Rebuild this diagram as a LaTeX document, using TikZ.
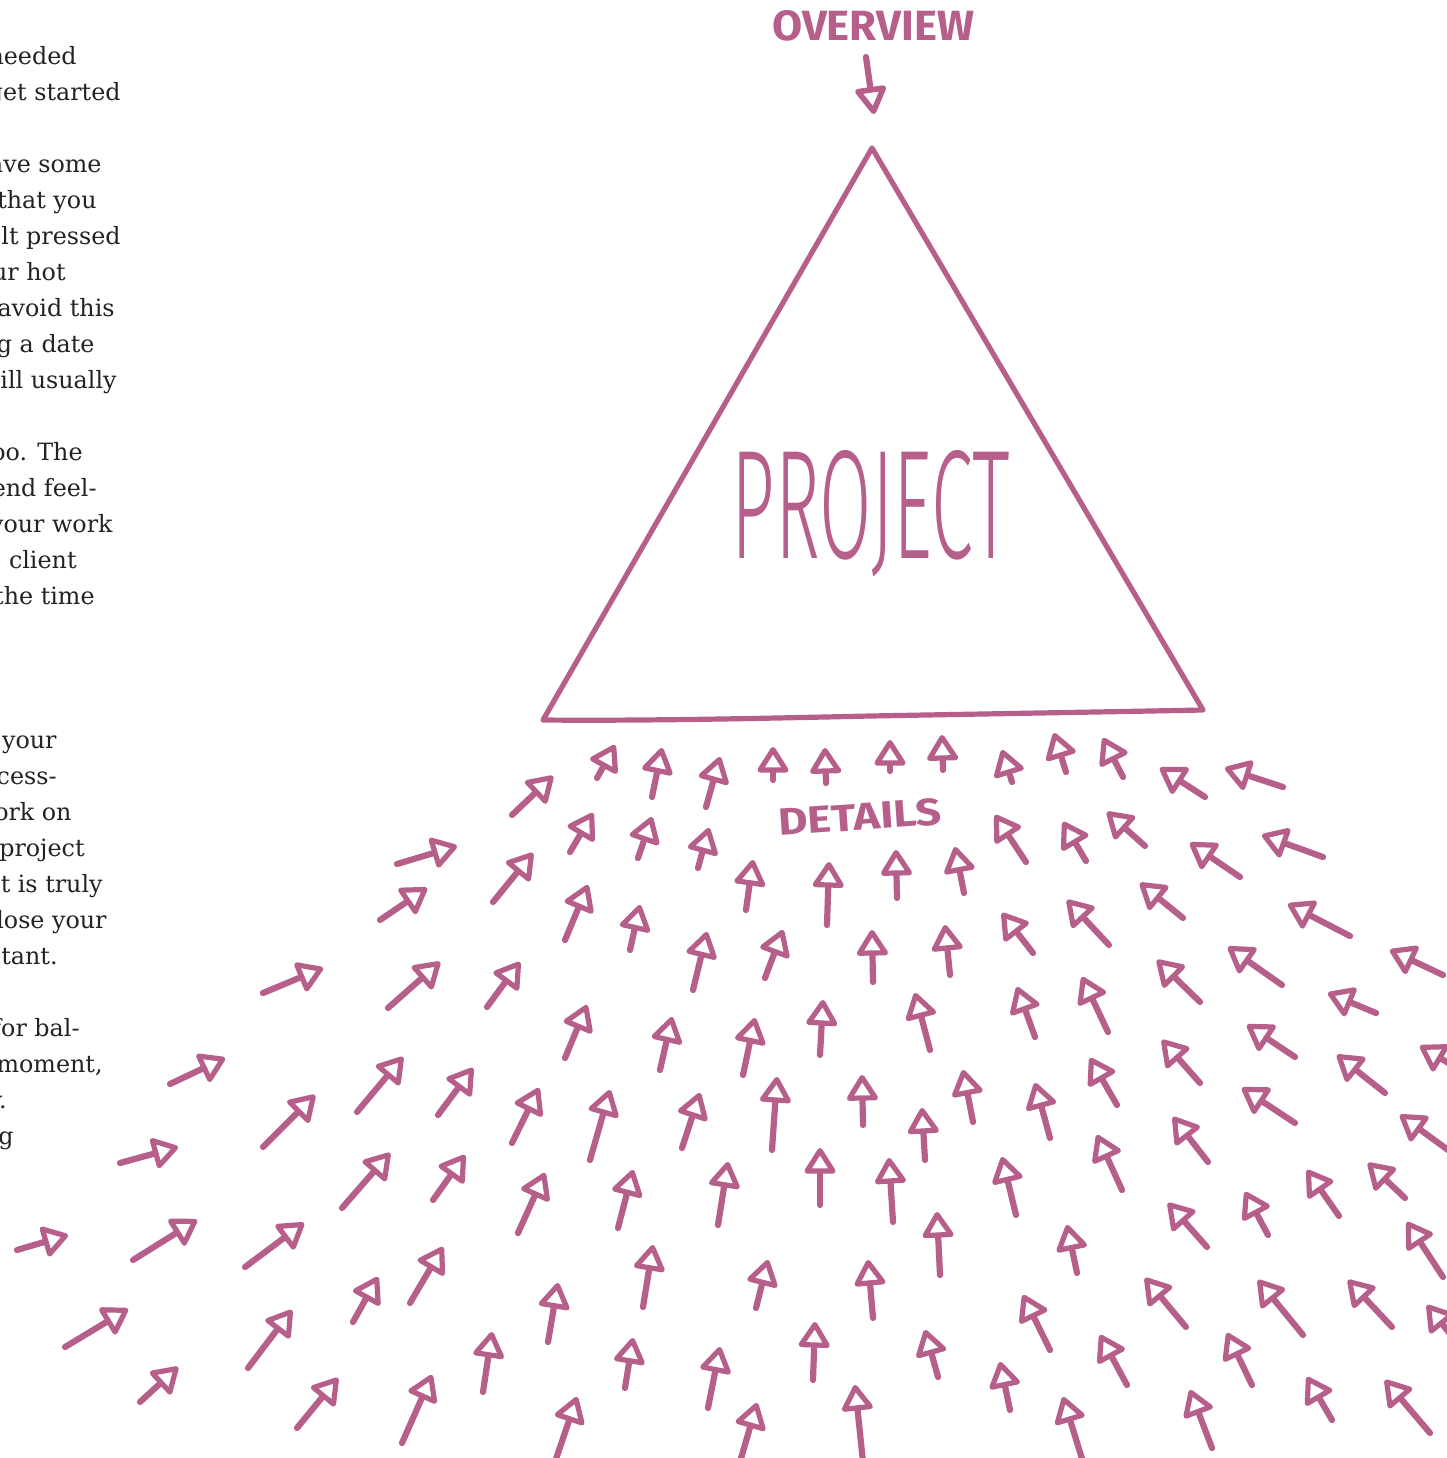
\documentclass[tikz,border=0pt]{standalone}
\usepackage{fontspec}
\usepackage{graphicx}
\usetikzlibrary{arrows.meta}
\setmainfont{DejaVu Serif}
\newfontfamily\handfont{Fira Sans}
\newfontfamily\thinhand{Fira Sans Light}
\definecolor{ink}{RGB}{182,95,139}
\definecolor{bodytext}{RGB}{35,35,35}

\begin{document}
\begin{tikzpicture}[x=0.5pt,y=-0.5pt,
  pen/.style={draw=ink, line width=2.6pt, line cap=round, line join=round},
  dart/.style={draw=ink, line width=3.1pt, line cap=round, line join=round,
    -{Triangle[open,round,length=14pt,width=17pt,line width=2.6pt]}},
  bigdart/.style={dart, -{Triangle[open,round,length=15pt,width=17pt,line width=2.8pt]}},
  copy/.style={anchor=base east, inner sep=0pt, text=bodytext,
    font=\fontsize{11.9pt}{14pt}\selectfont},
  hand/.style={inner sep=0pt, text=ink}]

\fill[white] (0,0) rectangle (1447,1458);
\useasboundingbox (0,0) rectangle (1447,1458);
\clip (0,0) rectangle (1447,1458);

% running text of the facing column, cut by the page edge
\node[copy] (t1)  at (77,64)    {needed};
\node[copy] (t2)  at (121,100)  {get started};
\node[copy] (t3)  at (102,172)  {ave some};
\node[copy] (t4)  at (97,208)   {that you};
\node[copy] (t5)  at (121,244)  {elt pressed};
\node[copy] (t6)  at (66,280)   {ur hot};
\node[copy] (t7)  at (115,316)  {avoid this};
\node[copy] (t8)  at (95,352)   {g a date};
\node[copy] (t9)  at (117,388)  {ill usually};
\node[copy] (t10) at (83,460)   {oo. The};
\node[copy] (t11) at (97,496)   {end feel-};
\node[copy] (t12) at (113,532)  {your work};
\node[copy] (t13) at (77,568)   {e client};
\node[copy] (t14) at (95,604)   {the time};
\node[copy] (t15) at (57,748)   {your};
\node[copy] (t16) at (57,784)   {cess-};
\node[copy] (t17) at (72,820)   {ork on};
\node[copy] (t18) at (85,856)   {project};
\node[copy] (t19) at (103,892)  {t is truly};
\node[copy] (t20) at (107,928)  {lose your};
\node[copy] (t21) at (58,964)   {tant.};
\node[copy] (t22) at (80,1036)  {for bal-};
\node[copy] (t23) at (103,1072) {moment,};
\node[copy] (t24) at (7,1108)   {y.};
\node[copy] (t25) at (14,1144)  {g};

% the project triangle
\coordinate (apex) at (872,148);
\coordinate (bl) at (543,720);
\coordinate (br) at (1203,710);
\draw[pen] (bl) .. controls (650,721) and (780,718) .. (870,716)
  .. controls (980,714) and (1100,712) .. (br) -- (apex) -- cycle;
\node[hand, anchor=base] (proj) at (871,558) {\resizebox{139pt}{54pt}{\thinhand PROJECT}};

% overview label and its arrow
\node[hand] (ov) at (873,26) {\resizebox{101pt}{15pt}{\handfont\bfseries OVERVIEW}};
\coordinate (ovtail) at (866,57);
\coordinate (ovtip) at (874,114);
\draw[bigdart] (ovtail) -- (ovtip);

% details label
\node[hand, rotate=4] (det) at (860,817) {\resizebox{82pt}{13.5pt}{\handfont\bfseries DETAILS}};

% field of small arrows pushing up towards the base
\foreach \ax/\ay/\bx/\by in {
  512/815/553/776, 597/778/615/745, 652/797/662/748, 706/807/720/757,
  773/780/773/747, 826/783/825/748, 890/771/890/740, 943/770/942/735,
  1012/782/1002/750, 1066/772/1054/733, 1123/777/1103/738, 1205/797/1160/768,
  1283/787/1225/768,
  397/864/457/846, 570/852/593/813, 638/858/652/817, 698/868/709/828,
  1026/862/995/815, 1086/861/1063/822, 1145/846/1107/812, 1240/877/1190/843,
  1323/857/1262/835,
  380/920/427/888, 493/902/533/853, 746/910/753/860, 827/925/829/862,
  897/898/896/850, 964/893/955/847, 1183/918/1140/883, 1350/936/1288/904,
  565/940/588/885, 630/950/640/905, 693/990/707/932, 765/978/783/930,
  873/982/872/930, 950/975/945/925, 1033/953/1002/913, 1109/945/1067/900,
  1443/975/1390/950,
  263/993/323/968, 388/1008/440/962, 487/1007/520/962, 1200/1002/1157/960,
  1282/985/1228/947,
  565/1058/587/1005, 660/1070/672/1017, 743/1075/755/1018, 820/1055/823/1000,
  930/1050/915/993, 1035/1037/1017/987, 1108/1032/1082/977, 1376/1013/1328/993,
  170/1084/225/1058, 1295/1057/1247/1025, 1460/1070/1420/1046,
  357/1112/403/1057, 438/1115/473/1068, 263/1147/315/1095, 512/1143/539/1088,
  590/1160/610/1090, 682/1148/700/1093, 772/1150/777/1077, 863/1125/862/1075,
  925/1160/922/1108, 973/1122/963/1070, 1050/1138/1035/1083, 1117/1105/1090/1058,
  1200/1083/1162/1040, 1295/1123/1242/1088, 1385/1093/1337/1055, 1455/1155/1400/1115,
  120/1163/178/1147, 342/1208/390/1153, 433/1200/465/1155, 1122/1190/1097/1135,
  1208/1162/1173/1117, 518/1233/545/1173, 618/1228/633/1170, 718/1225/728/1162,
  820/1205/820/1148, 893/1222/889/1158, 1016/1215/1002/1157, 1339/1216/1307/1170,
  1405/1198/1368/1163, 1268/1235/1245/1192,
  17/1250/68/1235, 133/1260/197/1220, 245/1267/304/1223, 940/1275/937/1212,
  1077/1273/1067/1225, 1207/1247/1168/1203, 1443/1277/1407/1222, 410/1303/443/1247,
  353/1322/378/1277, 643/1307/653/1245,
  248/1368/292/1310, 548/1342/558/1283, 756/1308/768/1260, 873/1318/868/1260,
  1050/1350/1023/1295, 1186/1327/1145/1278, 1303/1335/1258/1280, 1392/1327/1348/1280,
  65/1347/128/1309, 140/1402/178/1367,
  483/1392/492/1332, 625/1388/633/1338, 708/1408/720/1347, 813/1380/815/1322,
  938/1377/925/1330, 1127/1385/1100/1335, 1252/1385/1227/1333, 1455/1340/1427/1305,
  1010/1410/1000/1362, 297/1428/338/1378, 402/1443/432/1375, 555/1462/577/1397,
  740/1462/757/1403, 863/1462/855/1385, 1083/1462/1063/1397, 1212/1448/1190/1390,
  1332/1420/1307/1377, 1430/1433/1385/1380}
  \draw[dart] (\ax,\ay) -- (\bx,\by);
\end{tikzpicture}
\end{document}
